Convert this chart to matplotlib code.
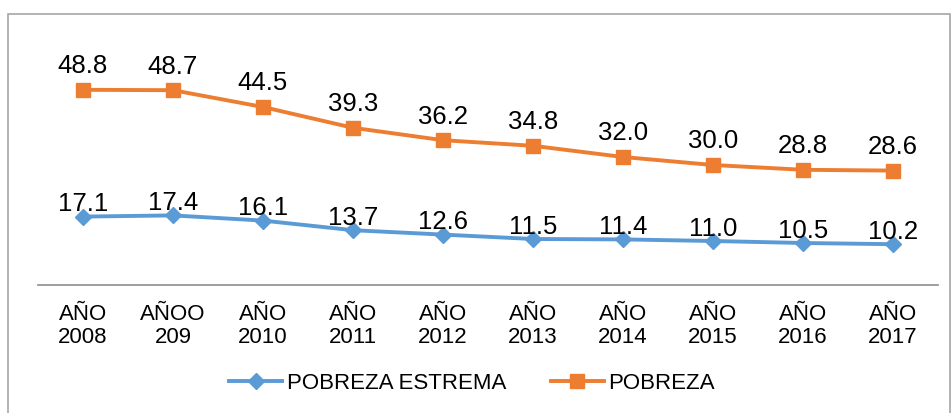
import matplotlib.pyplot as plt
from matplotlib.patches import Rectangle

years = ["AÑO\n2008", "AÑOO\n209", "AÑO\n2010", "AÑO\n2011", "AÑO\n2012",
         "AÑO\n2013", "AÑO\n2014", "AÑO\n2015", "AÑO\n2016", "AÑO\n2017"]
pobreza_estrema = [17.1, 17.4, 16.1, 13.7, 12.6, 11.5, 11.4, 11.0, 10.5, 10.2]
pobreza = [48.8, 48.7, 44.5, 39.3, 36.2, 34.8, 32.0, 30.0, 28.8, 28.6]

plt.rcParams["font.family"] = ["Liberation Sans", "DejaVu Sans"]

fig = plt.figure(figsize=(9.53, 4.14), dpi=100)
fig.patches.append(Rectangle((8 / 953, -0.1), 942 / 953, 1.1 - 15 / 414,
                             transform=fig.transFigure, fill=False,
                             edgecolor="#a6a6a6", linewidth=1.2))
ax = fig.add_axes([38 / 953, 1 - 286 / 414, 900 / 953, 240 / 414])

x = list(range(len(years)))
l1, = ax.plot(x, pobreza_estrema, color="#5B9BD5", lw=2.8, marker="D",
              markersize=8.5, label="POBREZA ESTREMA")
l2, = ax.plot(x, pobreza, color="#ED7D31", lw=2.8, marker="s",
              markersize=10, label="POBREZA")

for xi, v in zip(x, pobreza_estrema):
    ax.annotate(f"{v:.1f}", (xi, v), xytext=(0, 1), textcoords="offset points",
                ha="center", va="bottom", fontsize=18.5)
for xi, v in zip(x, pobreza):
    ax.annotate(f"{v:.1f}", (xi, v), xytext=(0, 9), textcoords="offset points",
                ha="center", va="bottom", fontsize=18.5)

ax.set_xlim(-0.5, len(years) - 0.5)
ax.set_ylim(0, 60)
ax.set_xticks(x)
ax.set_xticklabels(years, fontsize=16, linespacing=1.1)
ax.tick_params(axis="x", length=0, pad=13)
ax.set_yticks([])
for s in ["top", "right", "left"]:
    ax.spines[s].set_visible(False)
ax.spines["bottom"].set_color("#8c8c8c")
ax.spines["bottom"].set_linewidth(1.2)

fig.legend(handles=[l1, l2], loc="center", bbox_to_anchor=(472 / 953, 1 - 384 / 414),
           ncol=2, frameon=False, fontsize=16, handlelength=2.4,
           handletextpad=0.2, columnspacing=2.0)

fig.savefig("out.png", dpi=100)
